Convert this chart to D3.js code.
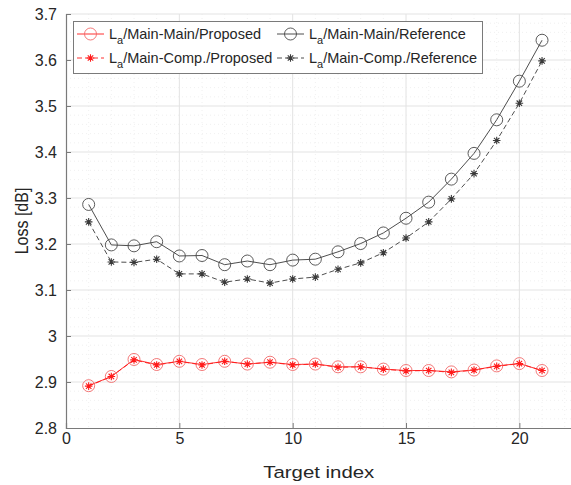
<!DOCTYPE html>
<html>
<head>
<meta charset="utf-8">
<script src="https://cdn.jsdelivr.net/npm/d3@7"></script>
<style>
  body { margin: 0; background: #fff; }
  text { font-family: "Liberation Sans", Arial, sans-serif; fill: #262626; }
</style>
</head>
<body>
<svg id="chart" width="571" height="485"></svg>
<script>
/* data */
var targetIndex = d3.range(1, 22);
var mainMainProposed = [2.892, 2.912, 2.949, 2.938, 2.945, 2.938, 2.945, 2.939, 2.943, 2.938, 2.939,
                        2.933, 2.933, 2.928, 2.925, 2.925, 2.922, 2.926, 2.935, 2.940, 2.925];
var mainCompProposed = [2.891, 2.912, 2.948, 2.937, 2.945, 2.937, 2.945, 2.939, 2.943, 2.937, 2.939,
                        2.932, 2.933, 2.928, 2.924, 2.925, 2.921, 2.926, 2.934, 2.940, 2.925];
var mainMainReference = [3.286, 3.198, 3.196, 3.205, 3.174, 3.175, 3.155, 3.163, 3.155, 3.165, 3.167,
                         3.183, 3.201, 3.224, 3.256, 3.291, 3.341, 3.397, 3.470, 3.554, 3.643];
var mainCompReference = [3.248, 3.161, 3.160, 3.167, 3.135, 3.135, 3.117, 3.124, 3.115, 3.124, 3.128,
                         3.145, 3.159, 3.181, 3.213, 3.248, 3.298, 3.353, 3.425, 3.506, 3.598];
var xTicks = [0, 5, 10, 15, 20];
var yTicks = [2.8, 2.9, 3.0, 3.1, 3.2, 3.3, 3.4, 3.5, 3.6, 3.7];

var series = [
  { name: "/Main-Main/Proposed",   values: mainMainProposed,  color: "#ff1a1a", dash: null,  marker: "circle" },
  { name: "/Main-Main/Reference",  values: mainMainReference, color: "#3a3a3a", dash: null,  marker: "circle" },
  { name: "/Main-Comp./Proposed",  values: mainCompProposed,  color: "#ff1a1a", dash: "5,3", marker: "star" },
  { name: "/Main-Comp./Reference", values: mainCompReference, color: "#3a3a3a", dash: "5,3", marker: "star" }
];

/* settings */
var plotLeft = 66, plotRight = 571.5, plotTop = 14, plotBottom = 428;

var svg = d3.select("#chart");

var xScale = d3.scaleLinear().domain([0, 22.3]).range([plotLeft, plotRight]);
var yScale = d3.scaleLinear().domain([2.8, 3.7]).range([plotBottom, plotTop]);

/* grid */
var grid = svg.append("g").attr("class", "grid");

grid.selectAll(".minor-x")
  .data(d3.range(1, 23).filter(function (d) { return d % 5 !== 0; }))
  .enter().append("line")
    .attr("x1", function (d) { return xScale(d); })
    .attr("x2", function (d) { return xScale(d); })
    .attr("y1", plotTop).attr("y2", plotBottom)
    .attr("stroke", "#ececec").attr("stroke-width", 0.8)
    .attr("stroke-dasharray", "1,3");

grid.selectAll(".minor-y")
  .data(d3.range(0, 45).map(function (i) { return 2.8 + i * 0.02; })
         .filter(function (d, i) { return i % 5 !== 0; }))
  .enter().append("line")
    .attr("x1", plotLeft).attr("x2", plotRight)
    .attr("y1", function (d) { return yScale(d); })
    .attr("y2", function (d) { return yScale(d); })
    .attr("stroke", "#ececec").attr("stroke-width", 0.8)
    .attr("stroke-dasharray", "1,3");

grid.selectAll(".major-x")
  .data(xTicks.filter(function (d) { return d > 0; }))
  .enter().append("line")
    .attr("x1", function (d) { return xScale(d); })
    .attr("x2", function (d) { return xScale(d); })
    .attr("y1", plotTop).attr("y2", plotBottom)
    .attr("stroke", "#e3e3e3").attr("stroke-width", 1);

grid.selectAll(".major-y")
  .data(yTicks.filter(function (d) { return d > 2.8; }))
  .enter().append("line")
    .attr("x1", plotLeft).attr("x2", plotRight)
    .attr("y1", function (d) { return yScale(d); })
    .attr("y2", function (d) { return yScale(d); })
    .attr("stroke", "#e3e3e3").attr("stroke-width", 1);

/* axes (ticks inward) */
var xAxis = d3.axisBottom(xScale).tickValues(xTicks).tickSize(-5).tickPadding(5)
  .tickFormat(d3.format("d"));
var yAxis = d3.axisLeft(yScale).tickValues(yTicks).tickSize(-5).tickPadding(9)
  .tickFormat(function (d) { return String(+d.toFixed(1)); });

var xAxisG = svg.append("g")
  .attr("transform", "translate(0," + plotBottom + ")")
  .call(xAxis);
var yAxisG = svg.append("g")
  .attr("transform", "translate(" + plotLeft + ",0)")
  .call(yAxis);

[xAxisG, yAxisG].forEach(function (g) {
  g.select(".domain").attr("stroke", "#7a7a7a").attr("stroke-width", 1.2);
  g.selectAll(".tick line").attr("stroke", "#7a7a7a");
  g.selectAll(".tick text").style("font-size", "16px").attr("fill", "#262626");
});

svg.append("text")
  .attr("transform", "translate(" + ((plotLeft + plotRight) / 2) + ",478) scale(1.2,1)")
  .attr("text-anchor", "middle")
  .style("font-size", "17px")
  .text("Target index");

svg.append("text")
  .attr("transform", "translate(28," + ((plotTop + plotBottom) / 2) + ") rotate(-90) scale(1,1.15)")
  .attr("text-anchor", "middle")
  .style("font-size", "16px")
  .text("Loss [dB]");

/* lines and markers */
var line = d3.line()
  .x(function (d, i) { return xScale(targetIndex[i]); })
  .y(function (d) { return yScale(d); });

function starPath(r) {
  var k = r * 0.72;
  return "M" + (-r) + ",0L" + r + ",0M0," + (-r) + "L0," + r +
         "M" + (-k) + "," + (-k) + "L" + k + "," + k +
         "M" + (-k) + "," + k + "L" + k + "," + (-k);
}

function drawMarker(g, s, x, y) {
  if (s.marker === "circle") {
    g.append("circle")
      .attr("cx", x).attr("cy", y).attr("r", 6)
      .attr("fill", "none")
      .attr("stroke", s.color === "#ff1a1a" ? "#f26a6a" : "#4a4a4a")
      .attr("stroke-width", 0.9);
  } else {
    g.append("path")
      .attr("transform", "translate(" + x + "," + y + ")")
      .attr("d", starPath(3.8))
      .attr("fill", "none")
      .attr("stroke", s.color)
      .attr("stroke-width", 1.1);
  }
}

var plot = svg.append("g").attr("id", "plot");

series.forEach(function (s) {
  plot.append("path")
    .datum(s.values)
    .attr("d", line)
    .attr("fill", "none")
    .attr("stroke", s.color)
    .attr("stroke-width", 0.9)
    .attr("stroke-dasharray", s.dash);
  var mg = plot.append("g");
  s.values.forEach(function (v, i) {
    drawMarker(mg, s, xScale(targetIndex[i]), yScale(v));
  });
});

/* legend */
var legend = svg.append("g").attr("id", "legend");
legend.append("rect")
  .attr("x", 73.5).attr("y", 21.5)
  .attr("width", 409).attr("height", 52)
  .attr("fill", "#fff")
  .attr("stroke", "#7a7a7a").attr("stroke-width", 1);

var legendPos = [
  { x: 77, y: 34 }, { x: 277, y: 34 },
  { x: 77, y: 58 }, { x: 277, y: 58 }
];

series.forEach(function (s, i) {
  var p = legendPos[i];
  legend.append("line")
    .attr("x1", p.x).attr("x2", p.x + 27)
    .attr("y1", p.y).attr("y2", p.y)
    .attr("stroke", s.color).attr("stroke-width", 0.9)
    .attr("stroke-dasharray", s.dash);
  drawMarker(legend, s, p.x + 13.5, p.y);
  var t = legend.append("text")
    .attr("x", p.x + 32).attr("y", p.y + 5)
    .style("font-size", "14.5px");
  t.append("tspan").text("L");
  t.append("tspan").attr("dy", 5).style("font-size", "11px").text("a");
  t.append("tspan").attr("dy", -5).text(s.name);
});
</script>
</body>
</html>
